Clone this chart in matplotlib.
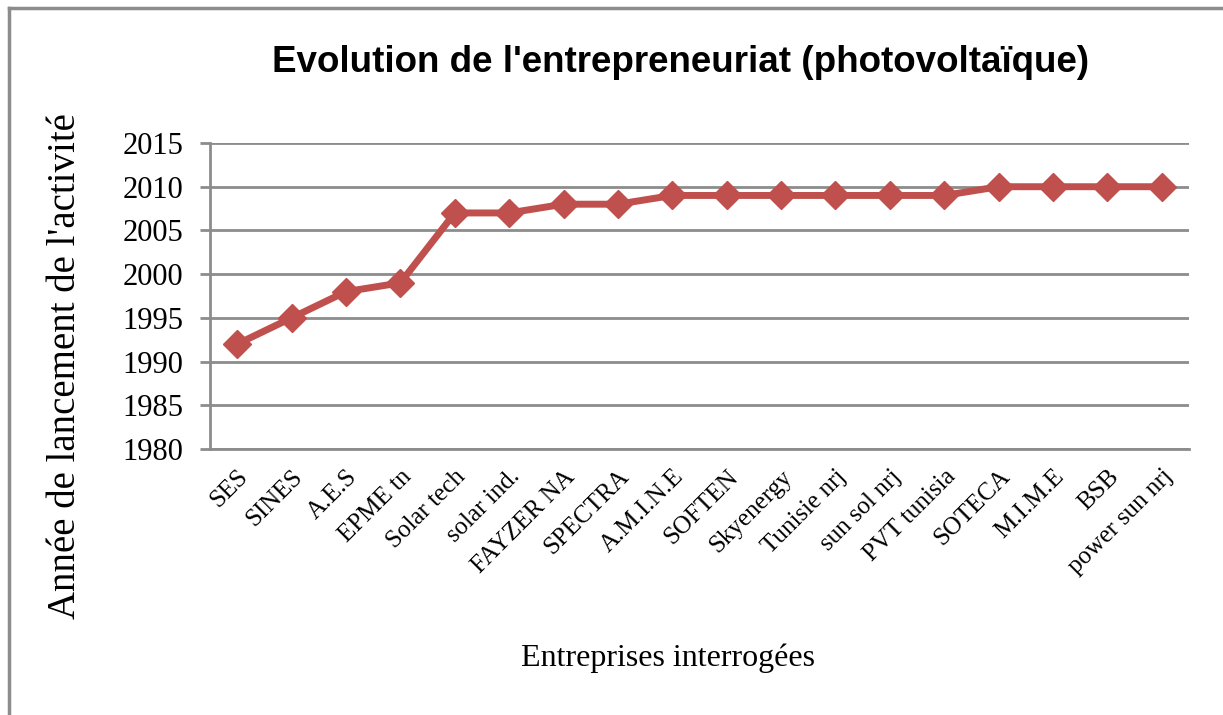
import matplotlib
matplotlib.use("Agg")
import matplotlib.pyplot as plt
from matplotlib.lines import Line2D

# data
companies = ["SES", "SINES", "A.E.S", "EPME tn", "Solar tech", "solar ind.",
             "FAYZER NA", "SPECTRA", "A.M.I.N.E", "SOFTEN", "Skyenergy",
             "Tunisie nrj", "sun sol nrj", "PVT tunisia", "SOTECA", "M.I.M.E",
             "BSB", "power sun nrj"]
years = [1992, 1995, 1998, 1999, 2007, 2007, 2008, 2008, 2009, 2009, 2009,
         2009, 2009, 2009, 2010, 2010, 2010, 2010]
yticks = [1980, 1985, 1990, 1995, 2000, 2005, 2010, 2015]

W, H = 1223, 715
fig = plt.figure(figsize=(W / 100, H / 100), dpi=100)
fig.patch.set_facecolor("white")

# outer frame of the chart area (top and left edges visible)
fig.add_artist(Line2D([9 / W, 9 / W], [0, 1 - 8 / H], transform=fig.transFigure,
                      color="#8c8c8c", lw=2.5))
fig.add_artist(Line2D([9 / W, 1], [1 - 8 / H, 1 - 8 / H], transform=fig.transFigure,
                      color="#8c8c8c", lw=2.5))

ax = fig.add_axes([210 / W, 1 - 449 / H, (1189 - 210) / W, (449 - 143) / H])

x = list(range(len(companies)))
ax.plot(x, years, color="#C0504D", lw=5, marker="D", markersize=14,
        markeredgecolor="#C0504D", zorder=3, clip_on=False)

ax.set_xlim(-0.5, len(companies) - 0.5)
ax.set_ylim(1980, 2015)
ax.set_yticks(yticks)
ax.yaxis.grid(True, color="#8c8c8c", lw=2)
ax.set_axisbelow(True)

for s in ["top", "right"]:
    ax.spines[s].set_visible(False)
ax.spines["left"].set_color("#8c8c8c")
ax.spines["left"].set_linewidth(2)
ax.spines["bottom"].set_color("#8c8c8c")
ax.spines["bottom"].set_linewidth(2)

serif = ["Liberation Serif", "DejaVu Serif"]
ax.tick_params(axis="y", length=7, width=2, color="#8c8c8c", pad=12,
               labelsize=22)
for lab in ax.get_yticklabels():
    lab.set_fontfamily(serif)

ax.set_xticks(x)
ax.set_xticklabels(companies, rotation=45, ha="right", rotation_mode="anchor",
                   fontsize=18, family=serif)
ax.tick_params(axis="x", length=0, pad=12)

fig.text(66 / W, 1 - 366 / H, "Année de lancement de l'activité", fontsize=28,
         family=serif, rotation=90, ha="center", va="center")
fig.text(668 / W, 1 - 658 / H, "Entreprises interrogées", fontsize=23,
         family=serif, ha="center", va="center")
fig.text(681 / W, 1 - 62 / H, "Evolution de l'entrepreneuriat (photovoltaïque)",
         fontsize=26.5, fontweight="bold", family=["Liberation Sans", "DejaVu Sans"],
         ha="center", va="center")

fig.savefig("out.png", dpi=100, facecolor="white")
